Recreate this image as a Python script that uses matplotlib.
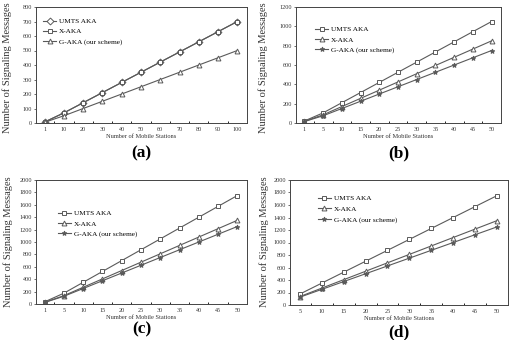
import matplotlib.pyplot as plt

plt.rcParams["font.family"] = ["Liberation Serif", "DejaVu Serif"]

# panel (a)
a_x = ["1", "10", "20", "30", "40", "50", "60", "70", "80", "90", "100"]
a_umts = [7, 70, 140, 210, 280, 350, 420, 490, 560, 630, 700]
a_xaka = [7, 70, 140, 210, 280, 350, 420, 490, 560, 630, 700]
a_gaka = [5, 50, 100, 150, 200, 250, 300, 350, 400, 450, 500]

# panels (b), (c)
bc_x = ["1", "5", "10", "15", "20", "25", "30", "35", "40", "45", "50"]
b_umts = [21, 105, 210, 315, 420, 525, 630, 735, 840, 945, 1050]
b_xaka = [17, 85, 170, 255, 340, 425, 510, 595, 680, 765, 850]
b_gaka = [15, 75, 150, 225, 300, 375, 450, 525, 600, 675, 750]

c_umts = [35, 175, 350, 525, 700, 875, 1050, 1225, 1400, 1575, 1750]
c_xaka = [27, 135, 270, 405, 540, 675, 810, 945, 1080, 1215, 1350]
c_gaka = [25, 125, 250, 375, 500, 625, 750, 875, 1000, 1125, 1250]

# panel (d)
d_x = ["5", "10", "15", "20", "25", "30", "35", "40", "45", "50"]
d_umts = [175, 350, 525, 700, 875, 1050, 1225, 1400, 1575, 1750]
d_xaka = [135, 270, 405, 540, 675, 810, 945, 1080, 1215, 1350]
d_gaka = [125, 250, 375, 500, 625, 750, 875, 1000, 1125, 1250]

labels = ["UMTS AKA", "X-AKA", "G-AKA (our scheme)"]
GRAY = "#5a5a5a"

W, H = 512, 340
fig = plt.figure(figsize=(W / 100, H / 100), dpi=100)


def px_axes(x0, y0, x1, y1):
    return fig.add_axes([x0 / W, 1 - y1 / H, (x1 - x0) / W, (y1 - y0) / H])


def panel(box, xt, series, markers, ymax, ystep, tag, tag_y, leg_pos, ylab_xy):
    ax = px_axes(*box)
    idx = list(range(len(xt)))
    for vals, m, lab in zip(series, markers, labels):
        ax.plot(idx, vals, color=GRAY, lw=0.8, marker=m, ms=3.5,
                mfc="white" if m != "*" else GRAY, mec=GRAY, mew=0.7, label=lab)
    ax.set_xlim(-0.45, len(xt) - 0.5)
    ax.set_ylim(0, ymax)
    ax.set_xticks(idx, xt)
    ax.set_xticks([i + 0.5 for i in idx[:-1]], minor=True)
    ax.tick_params(axis="x", which="major", length=0, pad=3)
    ax.tick_params(axis="x", which="minor", direction="in", length=1.5, width=0.6)
    ax.set_yticks(range(0, ymax + 1, ystep))
    ax.tick_params(axis="y", length=1.5, width=0.5, pad=1.5)
    ax.tick_params(labelsize=4.4, colors="#333333")
    for s in ax.spines.values():
        s.set_linewidth(0.7)
        s.set_color("#444444")
    ax.set_xlabel("Number of Mobile Stations", fontsize=4.6, labelpad=1.5, color="#333333")
    fig.text(ylab_xy[0] / W, 1 - ylab_xy[1] / H, "Number of Signaling Messages",
             rotation=90, ha="center", va="center", fontsize=7.5, color="#333333")
    ax.legend(loc="upper left", bbox_to_anchor=leg_pos, frameon=False, fontsize=5.2,
              handlelength=1.8, handletextpad=0.4, labelspacing=0.6, borderaxespad=0)
    cx = (box[0] + box[2]) / 2
    fig.text(cx / W, 1 - tag_y / H, tag, ha="center", va="center",
             fontsize=12.5, fontweight="bold")
    return ax


panel((36, 7, 247, 123), a_x, [a_umts, a_xaka, a_gaka], ["D", "s", "^"],
      800, 100, "(a)", 153, (0.02, 0.93), (7, 68))
panel((296, 7, 501, 123), bc_x, [b_umts, b_xaka, b_gaka], ["s", "^", "*"],
      1200, 200, "(b)", 153, (0.08, 0.86), (263, 68))
panel((36, 180, 247, 304), bc_x, [c_umts, c_xaka, c_gaka], ["s", "^", "*"],
      2000, 200, "(c)", 329, (0.09, 0.78), (8, 242))
panel((290, 180, 508, 305), d_x, [d_umts, d_xaka, d_gaka], ["s", "^", "*"],
      2000, 200, "(d)", 332, (0.115, 0.9), (264, 242))

fig.savefig("out.png", dpi=100)
